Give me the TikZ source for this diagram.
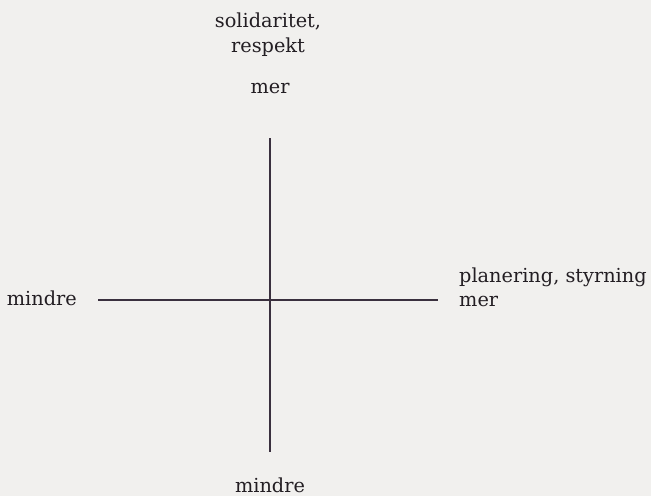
\documentclass[tikz,border=0pt]{standalone}
\usepackage{fontspec}
\setmainfont{DejaVu Serif}
\definecolor{paper}{RGB}{241,240,238}
\definecolor{ink}{RGB}{35,30,35}
\definecolor{axis}{RGB}{58,48,62}
\begin{document}
\begin{tikzpicture}[x=1pt,y=-1pt,
  lbl/.style={inner sep=0pt,text=ink,font=\fontsize{19.3}{25}\selectfont},
  axisline/.style={draw=axis,line width=2pt}]
\fill[paper] (0,0) rectangle (651,496);
\useasboundingbox (0,0) rectangle (651,496);
\coordinate (top) at (270,138);
\coordinate (bot) at (270,452);
\coordinate (lft) at (98,300);
\coordinate (rgt) at (438,300);
\draw[axisline] (top) -- (bot);
\draw[axisline] (lft) -- (rgt);
\node[lbl,align=center] (title) at (268,35) {solidaritet,\\respekt};
\node[lbl] (topmer) at (270,88) {mer};
\node[lbl] (botmindre) at (270,485) {mindre};
\node[lbl,anchor=east] (lftmindre) at (77,298) {mindre};
\node[lbl,anchor=west] (plan) at (459,277) {planering, styrning};
\node[lbl,anchor=west] (rgtmer) at (459,301) {mer};
\end{tikzpicture}
\end{document}
